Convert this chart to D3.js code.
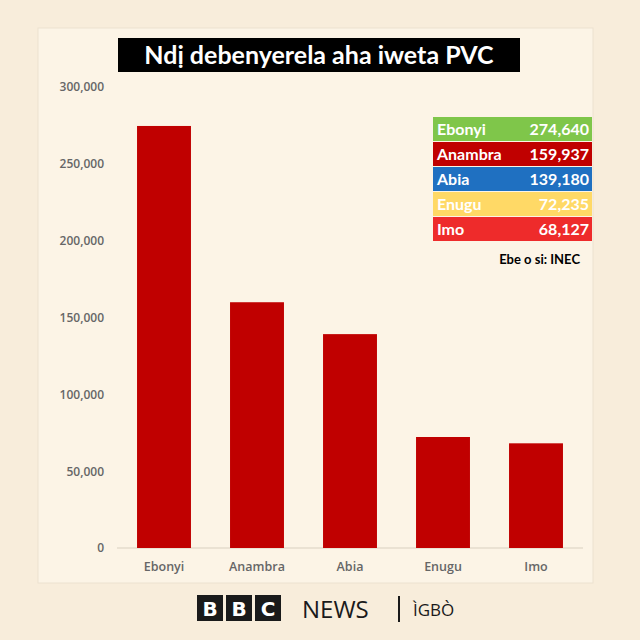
<!DOCTYPE html><html><head><meta charset="utf-8">
<script src="https://cdn.jsdelivr.net/npm/d3@7"></script>
<style>body{margin:0;background:#f8eddb}</style></head><body>
<svg id="c" width="640" height="640"></svg>
<script>
const categories=["Ebonyi","Anambra","Abia","Enugu","Imo"];
const values=[274640,159937,139180,72235,68127];
const legendColors=["#7fc64a","#c00000","#1f70c1","#ffd966","#ee2b2b"];
const legendText=["#fff","#fff","#fff","#fff","#fff"];
const yTicks=[0,50000,100000,150000,200000,250000,300000];
const svg=d3.select("#c");
const F="Lato, 'Open Sans', sans-serif";
const FA="'Open Sans', sans-serif";
svg.append("rect").attr("width",640).attr("height",640).attr("fill","#f8eddb");
svg.append("rect").attr("x",38).attr("y",28).attr("width",555).attr("height",555).attr("fill","#fcf4e6").attr("stroke","#ece2d0");
const x=d3.scaleBand().domain(categories).range([117.5,582.5]).paddingInner(0.42).paddingOuter(0.21);
const y=d3.scaleLinear().domain([0,300000]).range([548,87]);
const ya=svg.append("g").attr("transform","translate(108,0)").call(d3.axisLeft(y).tickValues(yTicks).tickFormat(d3.format(",")).tickSize(0).tickPadding(4));
ya.select(".domain").remove();
ya.selectAll("text").attr("font-family",FA).attr("font-size",12).attr("font-weight",600).attr("fill","#666");
svg.append("line").attr("x1",117).attr("x2",583).attr("y1",548).attr("y2",548).attr("stroke","#d9d0c0");
svg.selectAll(".b").data(values).join("rect").attr("x",(d,i)=>x(categories[i])).attr("width",x.bandwidth())
 .attr("y",d=>y(d)).attr("height",d=>548-y(d)).attr("fill","#c00000");
const xa=svg.append("g").attr("transform","translate(0,548)").call(d3.axisBottom(x).tickSize(0).tickPadding(14));
xa.select(".domain").remove();
xa.selectAll("text").attr("font-family",FA).attr("font-size",12.5).attr("font-weight",600).attr("fill","#666");
svg.append("rect").attr("x",118).attr("y",38).attr("width",402).attr("height",34).attr("fill","#000");
svg.append("text").attr("x",319).attr("y",64).attr("text-anchor","middle").attr("font-family",F).attr("font-weight","bold").attr("font-size",25).attr("fill","#fff").text("Ndị debenyerela aha iweta PVC");
const lg=svg.append("g");
categories.forEach((c,i)=>{
 const yy=117+i*25;
 lg.append("rect").attr("x",433).attr("y",yy).attr("width",159).attr("height",24).attr("fill",legendColors[i]);
 lg.append("text").attr("x",437).attr("y",yy+18).attr("font-family",F).attr("font-weight","bold").attr("font-size",16).attr("fill",legendText[i]).text(c);
 lg.append("text").attr("x",589).attr("y",yy+18).attr("text-anchor","end").attr("font-family",F).attr("font-weight","bold").attr("font-size",16).attr("fill",legendText[i]).text(d3.format(",")(values[i]));
});
svg.append("text").attr("x",580).attr("y",264).attr("text-anchor","end").attr("font-family",F).attr("font-weight","bold").attr("font-size",13).attr("fill","#000").text("Ebe o si: INEC");
["B","B","C"].forEach((t,i)=>{
 svg.append("rect").attr("x",197+i*29).attr("y",595).attr("width",26).attr("height",26).attr("fill","#1a1a1a");
 svg.append("text").attr("x",210+i*29).attr("y",616).attr("text-anchor","middle").attr("font-family","'DejaVu Sans', sans-serif").attr("font-weight","bold").attr("font-size",20).attr("fill","#fff").text(t);
});
svg.append("text").attr("x",302).attr("y",618).attr("font-family",FA).attr("font-size",24).attr("fill","#1a1a1a").text("NEWS");
svg.append("rect").attr("x",398).attr("y",596).attr("width",2).attr("height",26).attr("fill","#1a1a1a");
svg.append("text").attr("x",413).attr("y",616).attr("font-family",FA).attr("font-size",17).attr("fill","#1a1a1a").text("ÌGBÒ");
</script></body></html>
